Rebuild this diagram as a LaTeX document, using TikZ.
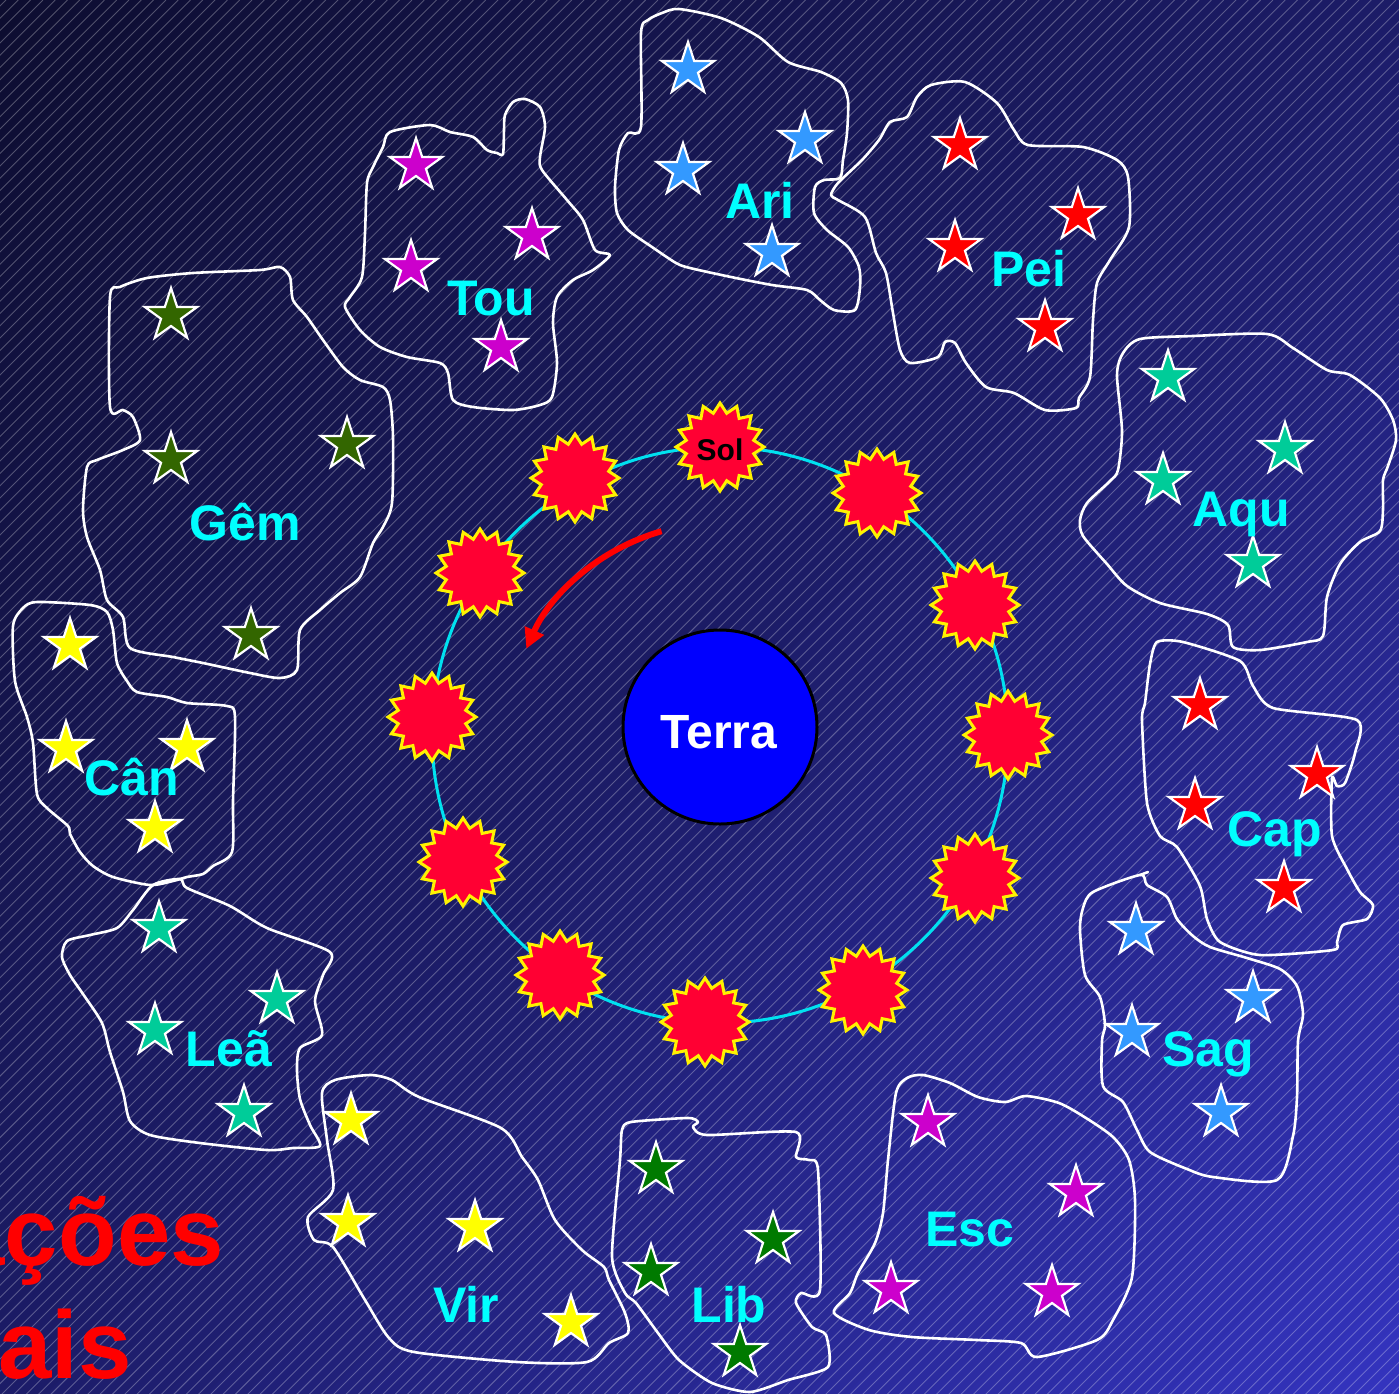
\documentclass[tikz,border=0pt]{standalone}
\usepackage{fontspec}
\setmainfont{Liberation Sans}
\usetikzlibrary{shapes.geometric,arrows.meta}

\definecolor{bgtop}{RGB}{13,13,48}
\definecolor{bgmid}{RGB}{28,28,104}
\definecolor{bgbot}{RGB}{52,52,192}
\definecolor{burstred}{RGB}{255,0,51}
\definecolor{orbitcyan}{RGB}{0,225,240}
\definecolor{skyblue}{RGB}{51,153,255}
\definecolor{starred}{RGB}{255,0,0}
\definecolor{starmag}{RGB}{204,0,204}
\definecolor{gemgreen}{RGB}{51,102,0}
\definecolor{seagreen}{RGB}{0,204,153}
\definecolor{libgreen}{RGB}{0,122,0}
\definecolor{staryellow}{RGB}{255,255,0}
\definecolor{labcyan}{RGB}{0,255,255}

\begin{document}
\begin{tikzpicture}[x=1pt,y=-1pt,
  zone/.style={draw=white,line width=2.6pt,line join=round},
  zstar/.style={star,star points=5,star point ratio=2.618,minimum size=55pt,
    inner sep=0pt,draw=white,line width=2.2pt,yshift=-2.5pt},
  burst/.style={star,star points=16,star point ratio=1.28,minimum size=88pt,
    inner sep=0pt,fill=burstred,draw=yellow,line width=3pt},
  zlabel/.style={text=labcyan,font=\bfseries\fontsize{50}{60}\selectfont,
    anchor=base,inner sep=0pt},
  hatch/.style={white,opacity=0.28,line width=0.9pt},
  title/.style={text=red,font=\bfseries\fontsize{96}{110}\selectfont,
    anchor=base east,inner sep=0pt}]

\useasboundingbox (0,0) rectangle (1399,1393);

\begin{scope}
\clip (0,0) rectangle (1399,1393);
% diagonal colour ramp of the sky
\foreach \i in {0,...,34} {
  \pgfmathtruncatemacro\pc{(\i+0.5)/35*100}
  \pgfmathsetmacro\ca{\i*40}
  \pgfmathsetmacro\cb{\i*40+41}
  \fill[bgmid!\pc!bgtop] (\ca,0) -- (\cb,0) -- (\cb-1400,1400) -- (\ca-1400,1400) -- cycle;
}
\foreach \i in {35,...,69} {
  \pgfmathtruncatemacro\pc{(\i-35+0.5)/35*100}
  \pgfmathsetmacro\ca{\i*40}
  \pgfmathsetmacro\cb{\i*40+41}
  \fill[bgbot!\pc!bgmid] (\ca,0) -- (\cb,0) -- (\cb-1400,1400) -- (\ca-1400,1400) -- cycle;
}
% fine diagonal hatching
\foreach \c in {6,18.3,...,2800}
  \draw[hatch] (\c,0) -- (\c-1400,1400);

% ---- Aries
\path[zone] plot[smooth cycle,tension=0.45] coordinates {
 (679,9) (721,18) (759,37) (788,62) (821,72) (841,83) (848,100) (847,133)
 (843,160) (840,178) (824,180) (815,187) (814,213) (827,230) (848,247)
 (859,267) (860,287) (855,310) (834,310) (820,300) (807,290) (772,285)
 (731,277) (690,268) (676,263) (652,247) (628,230) (617,213) (615,187)
 (619,150) (628,133) (641,127) (641,33) (648,20) (662,13)};
\foreach \x/\y [count=\i] in {688/67,805/137,683/168,772/250}
  \node[zstar,fill=skyblue] (ari\i) at (\x,\y) {};
\node[zlabel] (arilab) at (760,218) {Ari};

% ---- Pisces
\path[zone] plot[smooth cycle,tension=0.45] coordinates {
 (965,82) (997,103) (1014,130) (1028,145) (1083,147) (1117,160) (1128,177)
 (1129,227) (1110,260) (1097,283) (1093,320) (1090,377) (1079,398)
 (1076,408) (1045,410) (1014,393) (986,387) (966,363) (955,343) (945,342)
 (938,357) (910,363) (900,350) (893,313) (886,273) (876,253) (865,217)
 (838,200) (831,195) (838,183) (862,160) (879,140) (890,122) (907,117)
 (917,97) (931,85)};
\foreach \x/\y [count=\i] in {960/143,1078/213,955/245,1045/325}
  \node[zstar,fill=starred] (pei\i) at (\x,\y) {};
\node[zlabel] (peilab) at (1029,286) {Pei};

% ---- Taurus
\path[zone] plot[smooth cycle,tension=0.45] coordinates {
 (390,132) (430,125) (450,132) (473,137) (487,150) (497,153) (503,154)
 (504,130) (505,115) (513,102) (525,99) (540,107) (545,127) (540,157)
 (542,170) (567,200) (583,220) (595,250) (610,255) (593,270) (573,280)
 (557,297) (553,323) (557,363) (552,397) (540,405) (513,410) (473,407)
 (453,400) (448,373) (440,363) (407,357) (380,347) (360,330) (345,307)
 (350,297) (362,277) (365,233) (367,183) (373,167) (383,147)};
\foreach \x/\y [count=\i] in {416/163,532/233,411/265,501/345}
  \node[zstar,fill=starmag] (tou\i) at (\x,\y) {};
\node[zlabel] (toulab) at (491,315) {Tou};

% ---- Gemini
\path[zone] plot[smooth cycle,tension=0.45] coordinates {
 (280,267) (290,277) (293,300) (307,317) (323,340) (343,367) (360,380)
 (383,387) (390,400) (393,437) (392,503) (383,527) (373,543) (360,577)
 (340,593) (320,610) (300,630) (297,670) (280,678) (250,673) (203,663)
 (173,657) (130,648) (123,617) (107,600) (100,570) (87,537) (83,510)
 (87,467) (97,460) (123,450) (140,440) (133,417) (123,410) (110,407)
 (110,297) (120,287) (147,278) (193,273) (260,270)};
\foreach \x/\y [count=\i] in {171/313,347/442,171/457,251/633}
  \node[zstar,fill=gemgreen] (gem\i) at (\x,\y) {};
\node[zlabel] (gemlab) at (245,540) {Gêm};

% ---- Cancer
\path[zone] plot[smooth cycle,tension=0.45] coordinates {
 (37,602) (90,605) (107,612) (113,630) (117,663) (127,681) (137,692)
 (167,697) (187,703) (227,706) (235,717) (233,801) (232,852) (213,866)
 (203,874) (187,877) (173,881) (150,885) (113,877) (93,866) (80,852)
 (70,834) (68,826) (47,808) (37,794) (33,743) (27,717) (15,681) (13,626)
 (23,608)};
\foreach \x/\y [count=\i] in {70/643,66/746,187/745,155/826}
  \node[zstar,fill=staryellow] (can\i) at (\x,\y) {};
\node[zlabel] (canlab) at (132,795) {Cân};

% ---- Leo
\path[zone] plot[smooth cycle,tension=0.45] coordinates {
 (153,885) (180,879) (187,888) (230,906) (267,928) (330,952) (323,975)
 (315,1001) (322,1035) (300,1048) (297,1070) (300,1099) (310,1125)
 (320,1146) (293,1148) (267,1150) (200,1143) (150,1135) (130,1121)
 (123,1092) (110,1052) (102,1023) (83,994) (70,975) (62,957) (67,941)
 (90,935) (117,928) (133,910)};
\foreach \x/\y [count=\i] in {159/926,277/997,155/1028,244/1110}
  \node[zstar,fill=seagreen] (lea\i) at (\x,\y) {};
\node[zlabel] (lealab) at (229,1066) {Leã};

% ---- Virgo
\path[zone] plot[smooth cycle,tension=0.45] coordinates {
 (370,1075) (392,1080) (419,1097) (501,1128) (522,1157) (538,1180)
 (555,1220) (582,1250) (604,1267) (609,1280) (625,1313) (628,1333)
 (609,1343) (587,1362) (517,1362) (414,1352) (389,1338) (365,1300)
 (333,1247) (314,1240) (308,1217) (333,1190) (327,1140) (322,1093)
 (335,1080)};
\foreach \x/\y [count=\i] in {351/1118,348/1220,475/1225,571/1320}
  \node[zstar,fill=staryellow] (vir\i) at (\x,\y) {};
\node[zlabel] (virlab) at (466,1322) {Vir};

% ---- Libra
\path[zone] plot[smooth cycle,tension=0.4] coordinates {
 (631,1122) (688,1118) (698,1122) (693,1127) (707,1135) (796,1132)
 (796,1157) (809,1160) (818,1170) (820,1290) (801,1293) (796,1303)
 (812,1327) (826,1335) (828,1367) (788,1380) (750,1392) (712,1383)
 (679,1360) (658,1333) (636,1303) (625,1293) (612,1257) (620,1160)
 (622,1130)};
\foreach \x/\y [count=\i] in {656/1167,773/1237,651/1269,740/1350}
  \node[zstar,fill=libgreen] (lib\i) at (\x,\y) {};
\node[zlabel] (liblab) at (729,1322) {Lib};

% ---- Scorpius
\path[zone] plot[smooth cycle,tension=0.45] coordinates {
 (923,1075) (950,1083) (978,1097) (1005,1102) (1026,1096) (1059,1103)
 (1086,1118) (1113,1137) (1129,1160) (1135,1200) (1132,1277) (1113,1320)
 (1097,1340) (1037,1357) (1021,1343) (977,1340) (912,1337) (869,1330)
 (834,1313) (850,1293) (858,1273) (875,1243) (883,1213) (888,1160)
 (896,1093) (907,1078)};
\foreach \x/\y [count=\i] in {928/1120,1076/1190,891/1287,1052/1290}
  \node[zstar,fill=starmag] (esc\i) at (\x,\y) {};
\node[zlabel] (esclab) at (970,1246) {Esc};

% ---- Aquarius
\path[zone] plot[smooth cycle,tension=0.45] coordinates {
 (1140,339) (1193,336) (1267,334) (1293,348) (1327,370) (1350,375)
 (1380,398) (1393,420) (1396,440) (1388,466) (1383,480) (1383,509)
 (1380,531) (1360,542) (1340,564) (1327,597) (1323,636) (1307,642)
 (1260,650) (1233,647) (1228,625) (1207,614) (1160,603) (1127,586)
 (1107,564) (1083,536) (1080,520) (1087,503) (1110,481) (1118,470)
 (1122,431) (1117,375) (1123,353)};
\foreach \x/\y [count=\i] in {1168/375,1285/447,1163/478,1253/561}
  \node[zstar,fill=seagreen] (aqu\i) at (\x,\y) {};
\node[zlabel] (aqulab) at (1241,526) {Aqu};

% ---- Capricornus
\path[zone] plot[smooth cycle,tension=0.4] coordinates {
 (1157,642) (1183,642) (1240,661) (1253,686) (1273,708) (1357,720)
 (1355,753) (1345,783) (1337,786) (1332,778) (1332,836) (1347,869)
 (1360,892) (1373,905) (1367,919) (1343,925) (1337,942) (1333,950)
 (1260,955) (1220,942) (1207,919) (1200,886) (1177,847) (1160,836)
 (1147,803) (1142,720) (1145,703) (1150,664)};
\foreach \x/\y [count=\i] in {1200/703,1317/772,1195/803,1284/886}
  \node[zstar,fill=starred] (cap\i) at (\x,\y) {};
\node[zlabel] (caplab) at (1275,846) {Cap};

% ---- Sagittarius
\path[zone] plot[smooth cycle,tension=0.45] coordinates {
 (1140,875) (1093,892) (1083,908) (1080,930) (1085,975) (1100,997)
 (1105,1025) (1102,1041) (1103,1086) (1123,1102) (1137,1130) (1150,1152)
 (1187,1169) (1213,1177) (1277,1180) (1293,1136) (1297,1097) (1298,1041)
 (1303,1014) (1297,986) (1280,969) (1247,958) (1210,947) (1193,936)
 (1177,919) (1167,897) (1147,885)};
\draw[zone,line cap=round] (1140,875) -- (1148,872);
\foreach \x/\y [count=\i] in {1136/928,1253/996,1132/1030,1221/1110}
  \node[zstar,fill=skyblue] (sag\i) at (\x,\y) {};
\node[zlabel] (saglab) at (1208,1066) {Sag};

% ---- Sun's yearly path
\coordinate (orbc) at (720,735);
\draw[orbitcyan,line width=3pt] (orbc) circle[radius=288];
\node[burst] (sol) at (720,447) {};
\foreach \x/\y [count=\i] in {877/493,975/605,1008/735,975/878,863/990,
    705/1022,560/975,463/862,432/717,480/573,575/478}
  \node[burst] (sun\i) at (\x,\y) {};
\node[font=\bfseries\fontsize{30}{36}\selectfont,anchor=base,inner sep=0pt]
  (soltext) at (720,460) {Sol};

% ---- Earth
\node[circle,fill=blue,draw=black,line width=3pt,minimum size=194pt,inner sep=0pt]
  (terra) at (720,727) {};
\node[text=white,font=\bfseries\fontsize{48}{58}\selectfont,anchor=base,inner sep=0pt]
  (terratext) at (719,748) {Terra};

% ---- direction of apparent motion
\draw[red,line width=6pt,-{Triangle[length=20pt,width=20pt]}]
  ([shift={(254:212)}]orbc) arc[start angle=254,end angle=204,radius=212];

% ---- title, partly outside the frame
\node[title] (title1) at (224,1265) {Constelações};
\node[title] (title2) at (132,1378) {Zodiacais};
\end{scope}
\end{tikzpicture}
\end{document}
